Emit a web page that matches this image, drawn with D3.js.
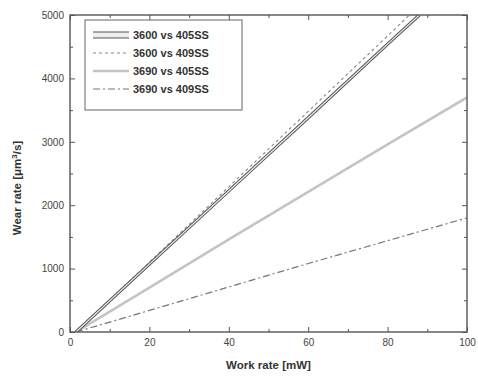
<!DOCTYPE html>
<html>
<head>
<meta charset="utf-8">
<script src="https://cdn.jsdelivr.net/npm/d3@7"></script>
<style>
body { margin: 0; background: #fff; }
svg { font-family: "Liberation Sans", Arial, sans-serif; }
</style>
</head>
<body>
<svg id="drawing_region"></svg>
<script>
// work rate [mW] vs wear rate [um^3/s]
const x_a = [1.5, 20, 40, 60, 80, 88];
const y_a = [0, 1070, 2225, 3380, 4540, 5000];      // 3600 vs 405SS
const x_b = [1.5, 20, 40, 60, 80, 85.5];
const y_b = [0, 1100, 2290, 3480, 4670, 5000];      // 3600 vs 409SS
const x_c = [1.5, 20, 40, 60, 80, 100];
const y_c = [0, 700, 1460, 2210, 2960, 3700];       // 3690 vs 405SS
const x_d = [1.5, 20, 40, 60, 80, 100];
const y_d = [0, 340, 710, 1080, 1440, 1800];        // 3690 vs 409SS

const series_names = ["3600 vs 405SS", "3600 vs 409SS", "3690 vs 405SS", "3690 vs 409SS"];
const x_ticks = [0, 20, 40, 60, 80, 100];
const y_ticks = [0, 1000, 2000, 3000, 4000, 5000];

const config = {
    width: 478,
    height: 383,
    margin: {top: 15, right: 11, bottom: 51, left: 70}
};

const svg = d3.select('#drawing_region')
    .attr('width', config.width)
    .attr('height', config.height);

const chart = svg.append('g')
    .attr('transform', `translate(${config.margin.left}, ${config.margin.top})`);

const inner_width = config.width - config.margin.left - config.margin.right;
const inner_height = config.height - config.margin.top - config.margin.bottom;

const xscale = d3.scaleLinear().domain([0, 100]).range([0, inner_width]);
const yscale = d3.scaleLinear().domain([0, 5000]).range([inner_height, 0]);

const axis_color = '#555';

// major + minor ticks, all pointing inward
function styleAxis(g) {
    g.select('.domain').remove();
    g.selectAll('.tick line').attr('stroke', axis_color).attr('stroke-width', 1);
    g.selectAll('.tick text').attr('fill', '#444').style('font-size', '10px');
}

const x_minor = d3.range(10, 100, 20);
const y_minor = d3.range(500, 5000, 1000);
const fmt = d3.format('d');

chart.append('g')
    .attr('transform', `translate(0, ${inner_height})`)
    .call(d3.axisBottom(xscale).tickValues(x_ticks).tickSizeInner(-5).tickSizeOuter(0).tickPadding(7).tickFormat(fmt))
    .call(styleAxis);
chart.append('g')
    .attr('transform', `translate(0, ${inner_height})`)
    .call(d3.axisBottom(xscale).tickValues(x_minor).tickSizeInner(-3).tickSizeOuter(0).tickFormat(''))
    .call(styleAxis);
chart.append('g')
    .call(d3.axisTop(xscale).tickValues(x_ticks).tickSizeInner(-5).tickSizeOuter(0).tickFormat(''))
    .call(styleAxis);
chart.append('g')
    .call(d3.axisTop(xscale).tickValues(x_minor).tickSizeInner(-3).tickSizeOuter(0).tickFormat(''))
    .call(styleAxis);

chart.append('g')
    .call(d3.axisLeft(yscale).tickValues(y_ticks).tickSizeInner(-5).tickSizeOuter(0).tickPadding(6).tickFormat(fmt))
    .call(styleAxis);
chart.append('g')
    .call(d3.axisLeft(yscale).tickValues(y_minor).tickSizeInner(-3).tickSizeOuter(0).tickFormat(''))
    .call(styleAxis);
chart.append('g')
    .attr('transform', `translate(${inner_width}, 0)`)
    .call(d3.axisRight(yscale).tickValues(y_ticks).tickSizeInner(-5).tickSizeOuter(0).tickFormat(''))
    .call(styleAxis);
chart.append('g')
    .attr('transform', `translate(${inner_width}, 0)`)
    .call(d3.axisRight(yscale).tickValues(y_minor).tickSizeInner(-3).tickSizeOuter(0).tickFormat(''))
    .call(styleAxis);

// clip
chart.append('clipPath').attr('id', 'clip')
    .append('rect').attr('width', inner_width).attr('height', inner_height);

const line = d3.line().x(d => xscale(d[0])).y(d => yscale(d[1]));
const plot = chart.append('g').attr('clip-path', 'url(#clip)');

const styles = [
    [{stroke: '#555', width: 3.2, dash: null}, {stroke: '#eee', width: 1.2, dash: null}],
    [{stroke: '#888', width: 1.1, dash: '3,3'}],
    [{stroke: '#c4c4c4', width: 2.6, dash: null}],
    [{stroke: '#777', width: 1.2, dash: '7,3,2,3'}]
];
const series = [
    d3.zip(x_a, y_a),
    d3.zip(x_b, y_b),
    d3.zip(x_c, y_c),
    d3.zip(x_d, y_d)
];

const draw_order = [2, 3, 1, 0];
draw_order.forEach(i => {
    styles[i].forEach(s => {
        plot.append('path')
            .datum(series[i])
            .attr('d', line)
            .attr('fill', 'none')
            .attr('stroke', s.stroke)
            .attr('stroke-width', s.width)
            .attr('stroke-dasharray', s.dash);
    });
});

// frame
chart.append('rect')
    .attr('width', inner_width)
    .attr('height', inner_height)
    .attr('fill', 'none')
    .attr('stroke', axis_color)
    .attr('stroke-width', 1.4);

// legend
const legend = chart.append('g').attr('transform', 'translate(15, 5)');
legend.append('rect')
    .attr('width', 157)
    .attr('height', 90)
    .attr('fill', '#fff')
    .attr('stroke', '#666')
    .attr('stroke-width', 1);

series_names.forEach((name, i) => {
    const yy = 15 + i * 18;
    styles[i].forEach(s => {
        legend.append('line')
            .attr('x1', 8).attr('x2', 44)
            .attr('y1', yy).attr('y2', yy)
            .attr('stroke', s.stroke)
            .attr('stroke-width', i === 0 ? s.width + 4 : s.width)
            .attr('stroke-dasharray', s.dash);
    });
    legend.append('text')
        .attr('x', 48)
        .attr('y', yy)
        .attr('dy', '0.35em')
        .style('font-size', '11px')
        .style('font-weight', 'bold')
        .attr('fill', '#333')
        .text(name);
});

// axis labels
svg.append('text')
    .attr('x', config.margin.left + inner_width / 2)
    .attr('y', 369)
    .attr('text-anchor', 'middle')
    .style('font-size', '11.5px')
    .style('font-weight', 'bold')
    .attr('fill', '#333')
    .text('Work rate [mW]');

const ylab = svg.append('text')
    .attr('transform', 'translate(21, 188) rotate(-90)')
    .attr('text-anchor', 'middle')
    .style('font-size', '11.5px')
    .style('font-weight', 'bold')
    .attr('fill', '#333');
ylab.append('tspan').text('Wear rate [μm');
ylab.append('tspan').attr('dy', -4).style('font-size', '8px').text('3');
ylab.append('tspan').attr('dy', 4).text('/s]');
</script>
</body>
</html>
